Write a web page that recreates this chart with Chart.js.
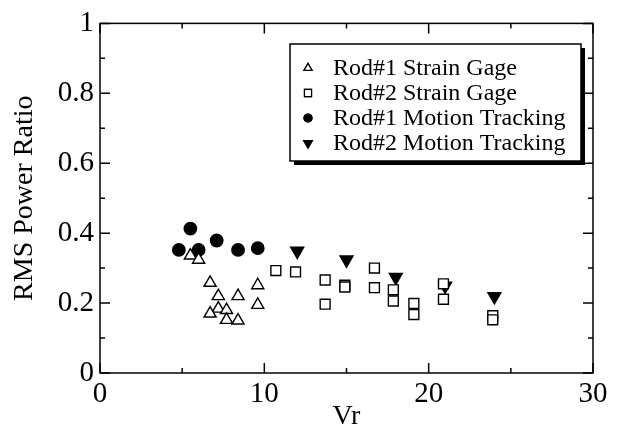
<!DOCTYPE html>
<html>
<head>
<meta charset="utf-8">
<script src="https://cdn.jsdelivr.net/npm/chart.js@4"></script>
<style>
  html, body { margin: 0; padding: 0; background: #fff; }
  #wrap { width: 624px; height: 439px; }
</style>
</head>
<body>
<div id="wrap"><canvas id="ratio-chart" width="624" height="439"></canvas></div>
<script>
// values
const rod1StrainVr = [5.5, 6.0, 6.7, 7.2, 8.4, 9.6, 7.2, 7.7, 6.7, 9.6, 7.7, 8.4];
const rod1StrainRatio = [0.336, 0.324, 0.258, 0.220, 0.220, 0.251, 0.184, 0.180, 0.170, 0.195, 0.152, 0.150];

const rod2StrainVr = [10.7, 11.9, 13.7, 13.7, 14.9, 14.9, 16.7, 16.7, 17.85, 17.85, 19.1, 19.1, 20.9, 20.9, 23.9, 23.9];
const rod2StrainRatio = [0.293, 0.289, 0.266, 0.197, 0.251, 0.246, 0.300, 0.244, 0.238, 0.206, 0.199, 0.167, 0.255, 0.211, 0.164, 0.152];

const rod1MotionVr = [4.8, 5.5, 6.0, 7.1, 8.4, 9.6];
const rod1MotionRatio = [0.352, 0.413, 0.352, 0.379, 0.352, 0.357];

const rod2MotionVr = [12, 15, 18, 21, 24];
const rod2MotionRatio = [0.349, 0.324, 0.274, 0.249, 0.219];

const seriesLabels = ['Rod#1 Strain Gage', 'Rod#2 Strain Gage', 'Rod#1 Motion Tracking', 'Rod#2 Motion Tracking'];

const xMajorTicks = [0, 10, 20, 30];
const xMinorTicks = [5, 15, 25];
const yMajorTicks = [0, 0.2, 0.4, 0.6, 0.8, 1];
const yMinorTicks = [0.1, 0.3, 0.5, 0.7, 0.9];

const serif = "'Liberation Serif', 'Times New Roman', serif";
Chart.defaults.font.family = serif;
Chart.defaults.color = '#000';

function toPoints(xs, ys) {
    return xs.map((x, i) => ({ x: x, y: ys[i] }));
}

const markerStyles = [
    { pointStyle: 'triangle', rotation: 0, radius: 7, fill: '#fff', legendRadius: 4.5 },
    { pointStyle: 'rect', rotation: 0, radius: 7, fill: '#fff', legendRadius: 5 },
    { pointStyle: 'circle', rotation: 0, radius: 6.2, fill: '#000', legendRadius: 4 },
    { pointStyle: 'triangle', rotation: 180, radius: 7.5, fill: '#000', legendRadius: 5 },
];

const seriesData = [
    toPoints(rod1StrainVr, rod1StrainRatio),
    toPoints(rod2StrainVr, rod2StrainRatio),
    toPoints(rod1MotionVr, rod1MotionRatio),
    toPoints(rod2MotionVr, rod2MotionRatio),
];

const datasets = seriesData.map((pts, i) => ({
    label: seriesLabels[i],
    data: pts,
    pointStyle: markerStyles[i].pointStyle,
    rotation: markerStyles[i].rotation,
    pointRadius: markerStyles[i].radius,
    pointHoverRadius: markerStyles[i].radius,
    backgroundColor: markerStyles[i].fill,
    borderColor: '#000',
    borderWidth: 1.4,
}));

// frame with inward ticks on all four sides
const framePlugin = {
    id: 'frame',
    afterDatasetsDraw(chart) {
        const { ctx, chartArea: a, scales } = chart;
        const xs = scales.x;
        const ys = scales.y;
        ctx.save();
        ctx.strokeStyle = '#000';
        ctx.lineWidth = 1.5;
        ctx.strokeRect(a.left, a.top, a.right - a.left, a.bottom - a.top);
        ctx.beginPath();
        const xTick = (v, len) => {
            const px = xs.getPixelForValue(v);
            ctx.moveTo(px, a.bottom); ctx.lineTo(px, a.bottom - len);
            ctx.moveTo(px, a.top); ctx.lineTo(px, a.top + len);
        };
        const yTick = (v, len) => {
            const py = ys.getPixelForValue(v);
            ctx.moveTo(a.left, py); ctx.lineTo(a.left + len, py);
            ctx.moveTo(a.right, py); ctx.lineTo(a.right - len, py);
        };
        xMajorTicks.forEach(v => xTick(v, 10));
        xMinorTicks.forEach(v => xTick(v, 5));
        yMajorTicks.forEach(v => yTick(v, 10));
        yMinorTicks.forEach(v => yTick(v, 5));
        ctx.stroke();
        ctx.restore();
    },
};

// boxed legend with drop shadow inside the plot
const legendBoxPlugin = {
    id: 'legendBox',
    afterDraw(chart) {
        const { ctx } = chart;
        const box = { left: 290, top: 44, width: 291, height: 117 };
        ctx.save();
        ctx.fillStyle = '#000';
        ctx.fillRect(box.left + 4, box.top + 4, box.width, box.height);
        ctx.fillStyle = '#fff';
        ctx.fillRect(box.left, box.top, box.width, box.height);
        ctx.strokeStyle = '#000';
        ctx.lineWidth = 1.5;
        ctx.strokeRect(box.left, box.top, box.width, box.height);

        ctx.font = '24px ' + serif;
        ctx.textBaseline = 'middle';
        ctx.textAlign = 'left';
        chart.data.datasets.forEach((ds, i) => {
            const y = box.top + 24 + i * 25;
            Chart.helpers.drawPoint(ctx, {
                pointStyle: markerStyles[i].pointStyle,
                rotation: markerStyles[i].rotation,
                radius: markerStyles[i].legendRadius,
                borderWidth: 1.2,
            }, 308, y);
            ctx.fillStyle = markerStyles[i].fill;
            ctx.strokeStyle = '#000';
            ctx.lineWidth = 1.2;
            ctx.fill();
            ctx.stroke();
            ctx.fillStyle = '#000';
            ctx.fillText(ds.label, 333, y + 1);
        });
        ctx.restore();
    },
};

new Chart(document.getElementById('ratio-chart'), {
    type: 'scatter',
    data: { datasets: datasets },
    options: {
        responsive: false,
        animation: false,
        layout: { padding: { top: 19, right: 31, left: 0, bottom: 0 } },
        plugins: {
            legend: { display: false },
            tooltip: { enabled: false },
        },
        scales: {
            x: {
                type: 'linear',
                min: 0,
                max: 30,
                afterFit: (scale) => { scale.height = 66; },
                afterBuildTicks: (scale) => { scale.ticks = xMajorTicks.map(v => ({ value: v })); },
                grid: { display: false, drawTicks: false },
                border: { display: false },
                ticks: { padding: 4, font: { size: 29 }, maxRotation: 0 },
                title: { display: true, text: 'Vr', font: { size: 28 }, padding: { top: 0, bottom: 6 } },
            },
            y: {
                type: 'linear',
                min: 0,
                max: 1,
                afterFit: (scale) => { scale.width = 100; },
                afterBuildTicks: (scale) => { scale.ticks = yMajorTicks.map(v => ({ value: v })); },
                grid: { display: false, drawTicks: false },
                border: { display: false },
                ticks: {
                    padding: 6,
                    font: { size: 29 },
                    callback: (v) => String(Math.round(v * 10) / 10),
                },
                title: { display: true, text: 'RMS Power Ratio', font: { size: 28 }, padding: { top: 8, bottom: 0 } },
            },
        },
    },
    plugins: [framePlugin, legendBoxPlugin],
});
</script>
</body>
</html>
